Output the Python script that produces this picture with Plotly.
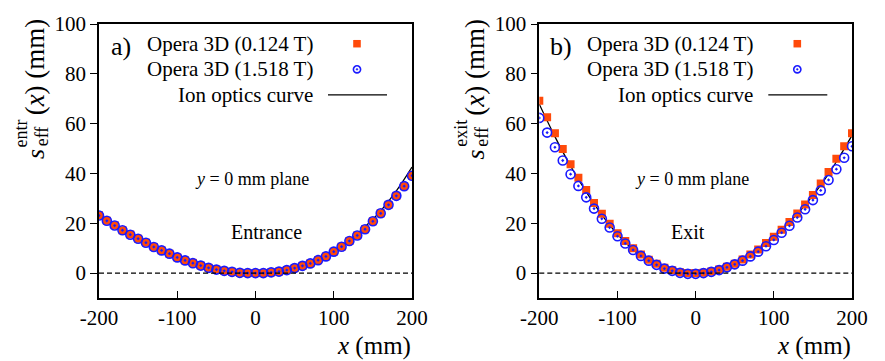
import plotly.graph_objects as go

# ---------------- data ----------------
x_pts = list(range(-200, 201, 10))
x_curve = list(range(-200, 201, 20))

entr_low = [23.2, 21.0, 19.2, 17.2, 15.5, 13.8, 12.2, 10.5, 9.1, 7.8, 6.3, 5.1, 4.1, 3.0, 2.1,
            1.4, 0.9, 0.5, 0.1, 0.0, 0.0, 0.0, 0.3, 0.6, 1.2, 2.0, 2.9, 3.9, 5.2, 6.7, 8.6,
            10.6, 12.9, 15.1, 17.6, 20.8, 24.0, 27.4, 31.0, 34.9, 39.1]
entr_high = [23.1, 21.0, 19.1, 17.2, 15.4, 13.8, 12.2, 10.5, 9.1, 7.8, 6.3, 5.1, 4.0, 3.0, 2.1,
             1.4, 0.9, 0.5, 0.1, 0.0, 0.0, 0.0, 0.3, 0.6, 1.2, 2.0, 2.9, 3.9, 5.2, 6.7, 8.6,
             10.6, 12.9, 15.1, 17.6, 20.8, 24.0, 27.4, 31.0, 34.9, 39.1]
entr_curve = [22.8, 19.0, 15.4, 12.0, 8.9, 6.1, 3.8, 2.0, 0.8, 0.2, 0.0, 0.3, 1.3, 3.1, 5.6,
              9.0, 13.3, 18.6, 25.0, 33.0, 42.6]

exit_low = [69.2, 62.6, 56.1, 49.8, 43.7, 38.3, 33.4, 28.1, 23.8, 19.8, 16.0, 12.9, 10.0, 7.5,
            5.4, 3.7, 2.1, 1.1, 0.3, 0.0, 0.0, 0.1, 0.6, 1.4, 2.5, 3.8, 5.5, 7.5, 9.5, 12.1,
            14.6, 17.4, 20.5, 23.9, 27.5, 31.4, 36.0, 40.6, 45.9, 50.9, 56.1]
exit_high = [62.3, 56.4, 50.5, 45.2, 39.7, 35.0, 30.4, 25.9, 21.8, 18.3, 14.8, 11.9, 9.3, 6.9,
             5.0, 3.3, 1.8, 0.9, 0.1, -0.3, -0.3, 0.0, 0.5, 1.2, 2.3, 3.5, 5.0, 6.7, 8.6, 10.8,
             13.3, 16.2, 19.0, 22.3, 25.6, 29.3, 33.2, 37.4, 41.7, 46.3, 50.9]
exit_curve = [67.8, 54.8, 43.0, 32.6, 23.4, 15.6, 9.4, 4.8, 1.7, 0.2, 0.0, 0.5, 2.2, 5.2, 9.3,
              14.4, 20.4, 27.3, 35.3, 44.7, 55.3]

x_ticks = [-200, -100, 0, 100, 200]
x_ticktext = ["-200", "-100", "0", "100", "200"]
y_ticks = [0, 20, 40, 60, 80, 100]
y_ticktext = ["0", "20", "40", "60", "80", "100"]
legend_labels = ["Opera 3D (0.124 T)", "Opera 3D (1.518 T)", "Ion optics curve"]

RED = "#ff4a0a"
BLUE = "#1a1aff"
FONT = "Liberation Serif, Times New Roman, Times, serif"

W, H = 885, 361
ML, MR, MT, MB = 99, 33, 20, 63
PW, PH = W - ML - MR, H - MT - MB


def px(xp):
    return (xp - ML) / PW


def py(yp):
    return (H - MB - yp) / PH


fig = go.Figure()

panels = [
    ("x", "y", entr_low, entr_high, entr_curve),
    ("x2", "y2", exit_low, exit_high, exit_curve),
]
for xa, ya, lo, hi, cu in panels:
    fig.add_trace(go.Scatter(x=x_curve, y=cu, mode="lines", xaxis=xa, yaxis=ya,
                             line=dict(color="black", width=1.3, shape="spline", smoothing=1.0),
                             showlegend=False))
    fig.add_trace(go.Scatter(x=x_pts, y=lo, mode="markers", xaxis=xa, yaxis=ya,
                             marker=dict(symbol="square", size=8, color=RED, line=dict(width=0)),
                             showlegend=False))
    fig.add_trace(go.Scatter(x=x_pts, y=hi, mode="markers", xaxis=xa, yaxis=ya,
                             marker=dict(symbol="circle-open-dot", size=9, color=BLUE,
                                         line=dict(width=1.6, color=BLUE)),
                             showlegend=False))

left_dom = [0, px(412)]
right_dom = [px(539.3), 1]

axis_common = dict(showline=True, linecolor="black", linewidth=1.5, mirror=True,
                   tickcolor="black", tickwidth=1.2,
                   showgrid=False, zeroline=False,
                   tickfont=dict(family=FONT, size=21, color="black"))
x_ax = dict(ticks="inside", ticklen=7, **axis_common)
y_ax = dict(ticks="outside", ticklen=7, **axis_common)

fig.update_layout(
    width=W, height=H,
    margin=dict(l=ML, r=MR, t=MT, b=MB),
    plot_bgcolor="white", paper_bgcolor="white",
    showlegend=False,
    font=dict(family=FONT),
    xaxis=dict(domain=left_dom, range=[-200, 200], tickvals=x_ticks, ticktext=x_ticktext,
               anchor="y", **x_ax),
    yaxis=dict(domain=[0, 1], range=[-10, 100], tickvals=y_ticks, ticktext=y_ticktext,
               anchor="x", **y_ax),
    xaxis2=dict(domain=right_dom, range=[-200, 200], tickvals=x_ticks, ticktext=x_ticktext,
                anchor="y2", **x_ax),
    yaxis2=dict(domain=[0, 1], range=[-10, 100], tickvals=y_ticks, ticktext=y_ticktext,
                anchor="x2", **y_ax),
)

shapes = []
annotations = []
for k, (xa, ya) in enumerate([("x", "y"), ("x2", "y2")]):
    off = 0 if k == 0 else 440.3
    shapes.append(dict(type="line", xref=f"{xa} domain", yref=ya, x0=0, x1=1, y0=0, y1=0,
                       line=dict(color="black", width=1.3, dash="5px,3px")))
    for i, lab in enumerate(legend_labels):
        yc = 40 + 26 * i
        annotations.append(dict(text=lab, x=px(314.5 + off), y=py(yc), xref="paper", yref="paper",
                                xanchor="right", yanchor="middle", showarrow=False,
                                font=dict(family=FONT, size=21, color="black")))
    sx = 357 + off
    shapes.append(dict(type="rect", xref="paper", yref="paper",
                       x0=px(sx - 3.8), x1=px(sx + 3.8), y0=py(40 - 3.8), y1=py(40 + 3.8),
                       fillcolor=RED, line=dict(width=0)))
    shapes.append(dict(type="circle", xref="paper", yref="paper",
                       x0=px(sx - 3.6), x1=px(sx + 3.6), y0=py(66 - 3.6), y1=py(66 + 3.6),
                       line=dict(color=BLUE, width=1.6)))
    shapes.append(dict(type="circle", xref="paper", yref="paper",
                       x0=px(sx - 0.9), x1=px(sx + 0.9), y0=py(66 - 0.9), y1=py(66 + 0.9),
                       fillcolor=BLUE, line=dict(color=BLUE, width=0.5)))
    shapes.append(dict(type="line", xref="paper", yref="paper",
                       x0=px(328 + off), x1=px(387 + off), y0=py(92), y1=py(92),
                       line=dict(color="black", width=1.3)))
    annotations.append(dict(text="a)" if k == 0 else "b)", x=px(121 + off), y=py(43),
                            xref="paper", yref="paper", xanchor="center", yanchor="middle",
                            showarrow=False, font=dict(family=FONT, size=26, color="black")))
    annotations.append(dict(text="<i>y</i> = 0 mm plane", x=px(252 + off),
                            y=py(177), xref="paper", yref="paper", xanchor="center",
                            yanchor="middle", showarrow=False,
                            font=dict(family=FONT, size=18, color="black")))
    annotations.append(dict(text="Entrance" if k == 0 else "Exit",
                            x=px(266 if k == 0 else 688), y=py(231), xref="paper", yref="paper",
                            xanchor="center", yanchor="middle", showarrow=False,
                            font=dict(family=FONT, size=20, color="black")))
    annotations.append(dict(text="<i>x</i> (mm)", x=px(413 + off), y=py(347), xref="paper",
                            yref="paper", xanchor="right", yanchor="middle", showarrow=False,
                            font=dict(family=FONT, size=25, color="black")))
    sup = "entr" if k == 0 else "exit"
    annotations.append(dict(text="<i>s</i>", x=px(35 + off), y=py(152), xref="paper", yref="paper",
                            xanchor="center", yanchor="middle", showarrow=False, textangle=-90,
                            font=dict(family=FONT, size=26, color="black")))
    annotations.append(dict(text="eff", x=px(42 + off), y=py(134), xref="paper", yref="paper",
                            xanchor="center", yanchor="middle", showarrow=False, textangle=-90,
                            font=dict(family=FONT, size=18, color="black")))
    annotations.append(dict(text=sup, x=px(21 + off), y=py(131), xref="paper", yref="paper",
                            xanchor="center", yanchor="middle", showarrow=False, textangle=-90,
                            font=dict(family=FONT, size=18, color="black")))
    annotations.append(dict(text="(<i>x</i>) (mm)", x=px(35 + off), y=py(64), xref="paper",
                            yref="paper", xanchor="center", yanchor="middle", showarrow=False,
                            textangle=-90, font=dict(family=FONT, size=27, color="black")))

fig.update_layout(shapes=shapes, annotations=annotations)
fig.write_html("out.html", post_script="document.body.style.margin='0';",
               config={"displayModeBar": False})
